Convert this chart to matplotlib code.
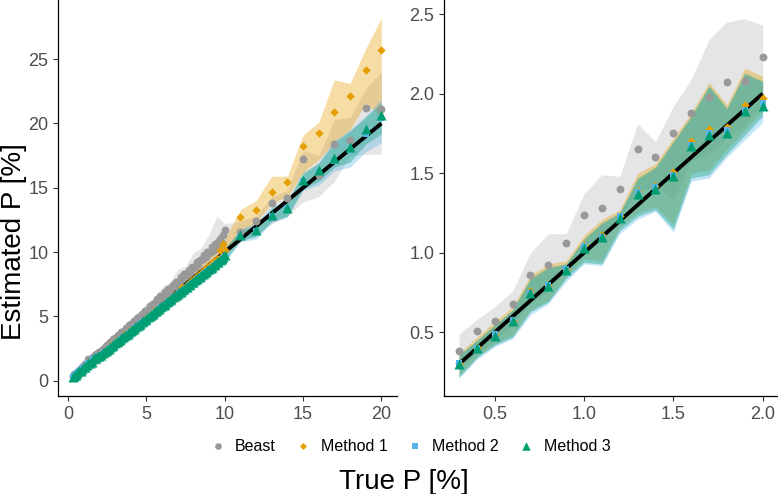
import numpy as np
import matplotlib.pyplot as plt

plt.rcParams['font.family'] = ['Liberation Sans', 'DejaVu Sans']

# colours for the four estimators
c_beast = '#999999'
c_m1 = '#E69F00'
c_m2 = '#56B4E9'
c_m3 = '#009E73'

# ---- fine grid 0.3 .. 2.0 (shown in right panel, also start of left panel)
x_fine = [0.3, 0.4, 0.5, 0.6, 0.7, 0.8, 0.9, 1.0, 1.1, 1.2,
          1.3, 1.4, 1.5, 1.6, 1.7, 1.8, 1.9, 2.0]
beast_fine = [0.38, 0.51, 0.57, 0.68, 0.86, 0.92, 1.06, 1.24, 1.28, 1.40,
              1.65, 1.60, 1.75, 1.88, 1.98, 2.07, 2.08, 2.23]
m1_fine = [0.31, 0.41, 0.49, 0.58, 0.76, 0.80, 0.90, 1.05, 1.11, 1.23,
           1.39, 1.42, 1.51, 1.70, 1.78, 1.79, 1.93, 1.97]
m2_fine = [0.31, 0.40, 0.49, 0.58, 0.75, 0.80, 0.90, 1.04, 1.10, 1.23,
           1.38, 1.41, 1.49, 1.68, 1.75, 1.77, 1.90, 1.94]
m3_fine = [0.30, 0.40, 0.48, 0.57, 0.75, 0.79, 0.89, 1.03, 1.10, 1.22,
           1.37, 1.40, 1.48, 1.67, 1.74, 1.75, 1.89, 1.92]

beast_lo_fine = [0.28, 0.36, 0.45, 0.55, 0.68, 0.76, 0.90, 1.05, 1.08, 1.22,
                 1.38, 1.42, 1.33, 1.58, 1.62, 1.72, 1.80, 1.95]
beast_hi_fine = [0.49, 0.58, 0.66, 0.76, 1.00, 1.12, 1.12, 1.37, 1.49, 1.48,
                 1.81, 1.70, 1.92, 2.09, 2.34, 2.45, 2.47, 2.43]
m1_lo_fine = [0.23, 0.35, 0.43, 0.48, 0.64, 0.70, 0.85, 0.96, 0.95, 1.16,
              1.25, 1.29, 1.18, 1.50, 1.52, 1.65, 1.77, 1.89]
m1_hi_fine = [0.37, 0.47, 0.57, 0.66, 0.86, 0.93, 0.95, 1.11, 1.21, 1.27,
              1.50, 1.56, 1.72, 1.88, 2.07, 1.93, 2.16, 2.11]
m2_lo_fine = [0.21, 0.33, 0.41, 0.46, 0.61, 0.68, 0.82, 0.93, 0.92, 1.12,
              1.21, 1.26, 1.13, 1.45, 1.47, 1.60, 1.71, 1.82]
m2_hi_fine = [0.35, 0.45, 0.54, 0.64, 0.83, 0.90, 0.93, 1.08, 1.18, 1.25,
              1.46, 1.53, 1.69, 1.85, 2.04, 1.90, 2.12, 2.07]
m3_lo_fine = [0.22, 0.34, 0.42, 0.47, 0.63, 0.69, 0.84, 0.94, 0.93, 1.14,
              1.23, 1.27, 1.15, 1.47, 1.49, 1.62, 1.74, 1.86]
m3_hi_fine = [0.36, 0.45, 0.55, 0.64, 0.84, 0.91, 0.93, 1.09, 1.19, 1.25,
              1.47, 1.54, 1.70, 1.86, 2.05, 1.91, 2.13, 2.08]

# ---- mid grid 2.1 .. 10.0 (left panel only)
x_mid = [round(2.1 + 0.1 * i, 1) for i in range(80)]
beast_mid = [2.30, 2.44, 2.50, 2.68, 2.74, 2.86, 3.02, 3.03, 3.22, 3.30,
             3.36, 3.55, 3.58, 3.78, 3.82, 3.90, 4.12, 4.10, 4.32, 4.40,
             4.43, 4.66, 4.66, 4.85, 4.92, 4.98, 5.22, 5.18, 5.45, 5.44,
             5.50, 5.78, 5.72, 5.98, 5.99, 6.08, 6.33, 6.27, 6.55, 6.55,
             6.58, 6.88, 6.82, 7.10, 7.08, 7.20, 7.46, 7.38, 7.70, 7.66,
             7.71, 8.05, 7.94, 8.27, 8.21, 8.34, 8.62, 8.46, 8.84, 8.80,
             8.82, 9.20, 9.04, 9.42, 9.35, 9.50, 9.80, 9.58, 10.02, 9.96,
             10.00, 10.40, 10.20, 10.62, 10.52, 10.80, 11.05, 10.70, 11.30, 11.70]
m1_mid = [2.07, 2.16, 2.25, 2.37, 2.44, 2.55, 2.66, 2.74, 2.83, 2.95,
          3.02, 3.14, 3.22, 3.33, 3.41, 3.52, 3.62, 3.69, 3.83, 3.89,
          4.01, 4.08, 4.21, 4.28, 4.41, 4.47, 4.60, 4.66, 4.79, 4.86,
          4.98, 5.05, 5.18, 5.24, 5.38, 5.44, 5.57, 5.62, 5.76, 5.83,
          5.95, 6.01, 6.15, 6.20, 6.35, 6.40, 6.54, 6.59, 6.74, 6.78,
          6.97, 7.03, 7.25, 7.22, 7.38, 7.41, 7.62, 7.60, 7.80, 7.82,
          8.00, 8.01, 8.25, 8.20, 8.40, 8.39, 8.62, 8.60, 8.85, 8.80,
          9.05, 9.00, 9.30, 9.20, 9.50, 9.45, 10.20, 9.70, 10.60, 10.20]
m2_mid = [1.97, 2.06, 2.15, 2.26, 2.34, 2.44, 2.55, 2.63, 2.73, 2.83,
          2.92, 3.03, 3.11, 3.22, 3.30, 3.41, 3.50, 3.59, 3.71, 3.79,
          3.89, 3.98, 4.09, 4.17, 4.29, 4.37, 4.48, 4.56, 4.67, 4.75,
          4.86, 4.94, 5.06, 5.13, 5.26, 5.33, 5.45, 5.51, 5.64, 5.72,
          5.83, 5.90, 6.03, 6.09, 6.23, 6.29, 6.42, 6.48, 6.61, 6.67,
          6.80, 6.86, 7.00, 7.05, 7.19, 7.24, 7.38, 7.43, 7.58, 7.63,
          7.76, 7.82, 7.96, 8.01, 8.15, 8.20, 8.34, 8.40, 8.54, 8.59,
          8.73, 8.78, 8.93, 8.98, 9.12, 9.17, 9.33, 9.38, 9.55, 9.72]
m3_mid = [2.03, 2.12, 2.20, 2.33, 2.40, 2.50, 2.62, 2.69, 2.79, 2.90,
          2.98, 3.10, 3.17, 3.29, 3.36, 3.48, 3.57, 3.65, 3.78, 3.85,
          3.96, 4.04, 4.16, 4.24, 4.36, 4.43, 4.55, 4.62, 4.74, 4.82,
          4.93, 5.01, 5.13, 5.20, 5.33, 5.40, 5.52, 5.58, 5.71, 5.79,
          5.90, 5.97, 6.10, 6.16, 6.30, 6.36, 6.49, 6.55, 6.68, 6.74,
          6.87, 6.93, 7.07, 7.12, 7.26, 7.31, 7.45, 7.50, 7.65, 7.70,
          7.83, 7.89, 8.03, 8.08, 8.22, 8.27, 8.41, 8.47, 8.61, 8.66,
          8.80, 8.85, 9.00, 9.05, 9.19, 9.24, 9.40, 9.45, 9.62, 9.80]

# bands on the mid range, every 0.5
x_band_mid = [2.5, 3.0, 3.5, 4.0, 4.5, 5.0, 5.5, 6.0, 6.5, 7.0, 7.5, 8.0, 8.5, 9.0, 9.5, 10.0]
beast_lo_mid = [2.45, 2.95, 3.45, 3.95, 4.45, 4.95, 5.45, 5.95, 6.45, 6.90, 7.40, 7.90, 8.40, 8.85, 9.35, 10.2]
beast_hi_mid = [3.00, 3.65, 4.10, 4.85, 5.30, 6.05, 6.45, 7.30, 7.65, 8.65, 8.90, 9.95, 10.30, 11.4, 12.8, 12.2]
m1_lo_mid = [2.30, 2.76, 3.22, 3.68, 4.16, 4.62, 5.10, 5.56, 6.04, 6.52, 7.00, 7.50, 8.00, 8.50, 9.10, 9.80]
m1_hi_mid = [2.58, 3.10, 3.58, 4.10, 4.62, 5.12, 5.64, 6.16, 6.68, 7.25, 7.80, 8.40, 8.95, 9.60, 10.35, 11.0]
m2_lo_mid = [2.22, 2.68, 3.12, 3.57, 4.05, 4.50, 4.97, 5.41, 5.89, 6.32, 6.80, 7.22, 7.70, 8.14, 8.62, 9.20]
m2_hi_mid = [2.50, 3.01, 3.45, 3.98, 4.47, 4.97, 5.47, 5.99, 6.47, 6.97, 7.47, 7.99, 8.47, 8.97, 9.50, 10.2]
m3_lo_mid = [2.28, 2.74, 3.18, 3.64, 4.12, 4.56, 5.04, 5.47, 5.95, 6.38, 6.87, 7.28, 7.77, 8.20, 8.69, 9.30]
m3_hi_mid = [2.55, 3.06, 3.50, 4.03, 4.52, 5.02, 5.52, 6.04, 6.52, 7.02, 7.52, 8.04, 8.52, 9.02, 9.55, 10.3]

# ---- coarse grid 11 .. 20
x_coarse = [11, 12, 13, 14, 15, 16, 17, 18, 19, 20]
beast_coarse = [11.54, 12.42, 13.80, 14.21, 17.27, 16.00, 18.41, 18.72, 21.19, 21.14]
m1_coarse = [12.71, 13.25, 14.65, 15.48, 18.26, 19.27, 20.93, 22.15, 24.14, 25.73]
m2_coarse = [11.20, 11.60, 12.80, 13.40, 15.50, 16.20, 17.10, 17.90, 19.20, 20.40]
m3_coarse = [11.33, 11.72, 12.89, 13.46, 15.61, 16.39, 17.35, 18.20, 19.58, 20.67]

beast_lo_coarse = [10.8, 11.3, 12.2, 12.8, 13.9, 14.3, 15.5, 17.5, 17.6, 17.6]
beast_hi_coarse = [12.4, 12.8, 14.3, 14.8, 17.9, 17.5, 20.3, 20.5, 22.7, 24.0]
m1_lo_coarse = [11.5, 12.3, 13.8, 14.3, 16.2, 17.2, 18.5, 19.5, 21.6, 20.5]
m1_hi_coarse = [13.3, 14.0, 15.9, 15.9, 19.1, 20.1, 23.4, 23.1, 25.8, 28.2]
m2_lo_coarse = [10.8, 11.0, 12.3, 12.7, 14.8, 15.2, 16.3, 16.6, 17.8, 18.5]
m2_hi_coarse = [11.8, 12.3, 13.5, 14.0, 16.0, 17.0, 18.7, 19.5, 20.6, 21.9]
m3_lo_coarse = [10.9, 11.2, 12.4, 12.8, 14.9, 15.5, 16.6, 17.0, 18.4, 19.2]
m3_hi_coarse = [11.7, 12.1, 13.4, 14.0, 16.2, 16.9, 18.5, 19.4, 20.5, 21.6]

names = ['Beast', 'Method 1', 'Method 2', 'Method 3']
colors = [c_beast, c_m1, c_m2, c_m3]
markers = ['o', 'D', 's', '^']
sizes = [32, 18, 22, 52]

fig = plt.figure(figsize=(7.78, 4.94), dpi=100)
ax1 = fig.add_axes([0.0746, 0.1984, 0.4357, 0.8016])
ax2 = fig.add_axes([0.5707, 0.1984, 0.4293, 0.8016])


def draw(ax, x_pts, pts, x_band, bands, x_line):
    # ribbons first
    for (lo, hi), col in zip(bands, colors):
        if col == c_beast:
            ax.fill_between(x_band, lo, hi, color=col, alpha=0.25, lw=0)
        else:
            ax.fill_between(x_band, lo, hi, color=col, alpha=0.35, lw=0)
    # true value line
    ax.plot(x_line, x_line, color='black', lw=2.8, solid_capstyle='butt', zorder=3)
    handles = []
    for y, col, m, s, nm in zip(pts, colors, markers, sizes, names):
        h = ax.scatter(x_pts, y, color=col, marker=m, s=s, lw=0, zorder=4, label=nm)
        handles.append(h)
    for side in ['top', 'right']:
        ax.spines[side].set_visible(False)
    for side in ['left', 'bottom']:
        ax.spines[side].set_linewidth(0.9)
    ax.tick_params(labelsize=13, labelcolor='#4D4D4D', color='#333333',
                   length=3.5, width=0.8)
    return handles


# left panel: whole range
xl = x_fine + x_mid + x_coarse
pts_l = [beast_fine + beast_mid + beast_coarse,
         m1_fine + m1_mid + m1_coarse,
         m2_fine + m2_mid + m2_coarse,
         m3_fine + m3_mid + m3_coarse]
xb = x_fine + x_band_mid + x_coarse
bands_l = [(beast_lo_fine + beast_lo_mid + beast_lo_coarse, beast_hi_fine + beast_hi_mid + beast_hi_coarse),
           (m1_lo_fine + m1_lo_mid + m1_lo_coarse, m1_hi_fine + m1_hi_mid + m1_hi_coarse),
           (m2_lo_fine + m2_lo_mid + m2_lo_coarse, m2_hi_fine + m2_hi_mid + m2_hi_coarse),
           (m3_lo_fine + m3_lo_mid + m3_lo_coarse, m3_hi_fine + m3_hi_mid + m3_hi_coarse)]
handles = draw(ax1, xl, pts_l, xb, bands_l, [x_fine[0], x_coarse[-1]])
ax1.set_xlim(-0.64, 21.0)
ax1.set_ylim(-1.19, 29.6)
ax1.set_xticks([0, 5, 10, 15, 20])
ax1.set_yticks([0, 5, 10, 15, 20, 25])

# right panel: zoom on 0.3 .. 2.0
pts_r = [beast_fine, m1_fine, m2_fine, m3_fine]
bands_r = [(beast_lo_fine, beast_hi_fine), (m1_lo_fine, m1_hi_fine),
           (m2_lo_fine, m2_hi_fine), (m3_lo_fine, m3_hi_fine)]
draw(ax2, x_fine, pts_r, x_fine, bands_r, [x_fine[0], x_fine[-1]])
ax2.set_xlim(0.216, 2.086)
ax2.set_ylim(0.1, 2.588)
ax2.set_xticks([0.5, 1.0, 1.5, 2.0])
ax2.set_yticks([0.5, 1.0, 1.5, 2.0, 2.5])
ax2.set_xticklabels(['0.5', '1.0', '1.5', '2.0'])
ax2.set_yticklabels(['0.5', '1.0', '1.5', '2.0', '2.5'])

fig.text(0.018, 0.51, 'Estimated P [%]', rotation=90, fontsize=20,
         ha='center', va='center')
fig.text(0.519, 0.024, 'True P [%]', fontsize=20, ha='center', va='center')
fig.legend(handles=handles, loc='center', bbox_to_anchor=(0.527, 0.097), ncol=4,
           frameon=False, fontsize=11.5, handletextpad=0.6, columnspacing=1.2,
           markerscale=0.85, scatterpoints=1, handlelength=1.0)

fig.savefig('out.png', dpi=100)
